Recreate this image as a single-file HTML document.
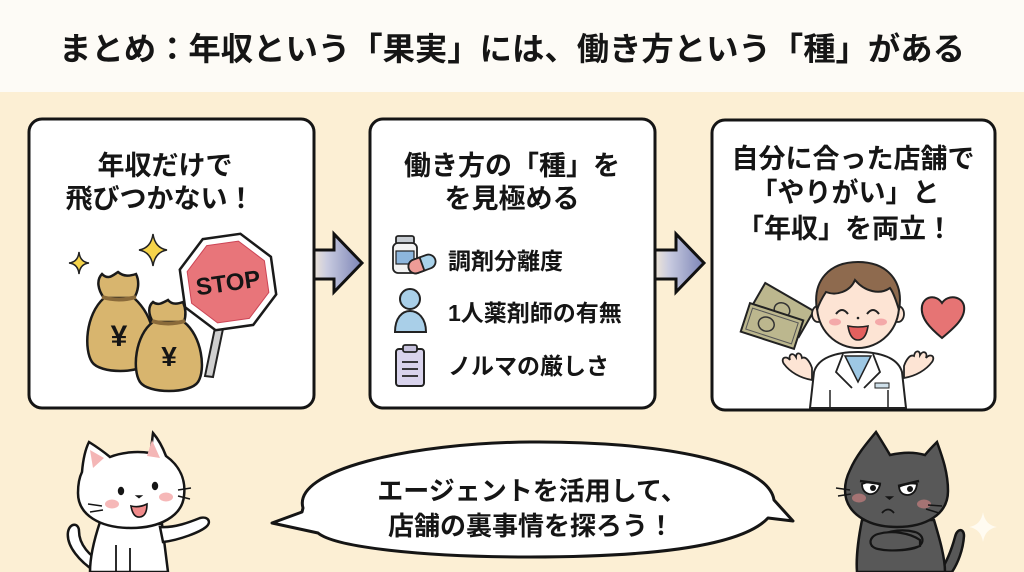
<!DOCTYPE html>
<html><head><meta charset="utf-8"><style>
html,body{margin:0;padding:0;width:1024px;height:572px;overflow:hidden;background:#fcefd4}
svg{display:block}
text{font-family:"Liberation Sans","Noto Sans CJK JP",sans-serif;font-weight:bold;fill:#151515}
</style></head><body>
<svg width="1024" height="572" viewBox="0 0 1024 572" xmlns="http://www.w3.org/2000/svg">
<defs>
<linearGradient id="ag" x1="0" x2="1" y1="0" y2="0">
<stop offset="0" stop-color="#fcefd4"/><stop offset="0.35" stop-color="#c9cbe0"/><stop offset="1" stop-color="#7b84b6"/>
</linearGradient>
</defs>
<rect x="0" y="0" width="1024" height="92" fill="#fdfbf6"/>
<rect x="0" y="92" width="1024" height="480" fill="#fcefd4"/>
<text x="512" y="60" font-size="32" text-anchor="middle" textLength="906" lengthAdjust="spacingAndGlyphs">まとめ：年収という「果実」には、働き方という「種」がある</text>

<!-- arrows -->
<path d="M308,250 L334,250 L334,234 L362,263 L334,292 L334,279 L308,279 Z" fill="url(#ag)" stroke="#111" stroke-width="3" stroke-linejoin="miter"/>
<path d="M650,250 L676,250 L676,234 L704,263 L676,292 L676,279 L650,279 Z" fill="url(#ag)" stroke="#111" stroke-width="3"/>

<!-- boxes -->
<rect x="29" y="119" width="285" height="289" rx="13" fill="#fff" stroke="#151515" stroke-width="3"/>
<rect x="370" y="119" width="285" height="289" rx="13" fill="#fff" stroke="#151515" stroke-width="3"/>
<rect x="712" y="120" width="283" height="290" rx="13" fill="#fff" stroke="#151515" stroke-width="3"/>

<!-- box1 text -->
<text x="165" y="175" font-size="27" text-anchor="middle">年収だけで</text>
<text x="160" y="208" font-size="27" text-anchor="middle">飛びつかない！</text>

<!-- sparkles -->
<path d="M153,234 Q155,248 167,250 Q155,252 153,266 Q151,252 139,250 Q151,248 153,234 Z" fill="#f6d44a" stroke="#222" stroke-width="1.5"/>
<path d="M79,252 Q80,262 89,263 Q80,264 79,274 Q78,264 69,263 Q78,262 79,252 Z" fill="#f6d44a" stroke="#222" stroke-width="1.5"/>

<!-- bag 1 -->
<path d="M104,298 C85,315 84,350 92,362 C100,374 140,374 150,362 C158,350 156,318 134,298 Z" fill="#d8b56e" stroke="#1a1a1a" stroke-width="2.5"/>
<path d="M104,298 C98,290 96,280 102,274 C108,280 112,276 118,272 C124,277 130,276 136,274 C140,282 138,292 134,298 Z" fill="#d8b56e" stroke="#1a1a1a" stroke-width="2.5"/>
<path d="M102,297 Q119,302 136,297" fill="none" stroke="#8a6a3a" stroke-width="4"/>
<text x="119" y="346" font-size="30" text-anchor="middle">¥</text>
<!-- bag 2 -->
<path d="M153,322 C135,335 132,370 140,382 C148,394 190,394 198,382 C206,370 202,336 184,322 Z" fill="#d8b56e" stroke="#1a1a1a" stroke-width="2.5"/>
<path d="M153,322 C148,314 148,306 153,302 C158,306 162,303 168,300 C172,305 178,304 183,302 C186,309 186,316 184,322 Z" fill="#d8b56e" stroke="#1a1a1a" stroke-width="2.5"/>
<path d="M152,321 Q168,326 185,321" fill="none" stroke="#8a6a3a" stroke-width="4"/>
<text x="169" y="366" font-size="28" text-anchor="middle">¥</text>

<!-- stop sign -->
<path d="M216,323 L224,324 L213,377 L205,376 Z" fill="#cfcfcf" stroke="#222" stroke-width="2"/>
<g transform="translate(228,282) rotate(-8)">
<polygon points="-19,-46 19,-46 46,-19 46,19 19,46 -19,46 -46,19 -46,-19" fill="#fff" stroke="#1a1a1a" stroke-width="2.5"/>
<polygon points="-16,-39 16,-39 39,-16 39,16 16,39 -16,39 -39,16 -39,-16" fill="#e8757a" stroke="#c45"/>
<text x="0" y="9" font-size="24" text-anchor="middle" fill="#1a1a1a" style="font-family:'Liberation Sans',sans-serif">STOP</text>
</g>

<!-- box2 text -->
<text x="512" y="175" font-size="27" text-anchor="middle">働き方の「種」を</text>
<text x="512" y="208" font-size="27" text-anchor="middle">を見極める</text>
<text x="448" y="269" font-size="23">調剤分離度</text>
<text x="448" y="321" font-size="23">1人薬剤師の有無</text>
<text x="448" y="374" font-size="23">ノルマの厳しさ</text>

<!-- bottle & pill -->
<rect x="396" y="236" width="18" height="8" rx="2" fill="#c8cdd3" stroke="#222" stroke-width="1.8"/>
<rect x="393" y="243" width="24" height="30" rx="5" fill="#f3f3f3" stroke="#222" stroke-width="1.8"/>
<rect x="396" y="251" width="18" height="13" fill="#8db6dd" stroke="#222" stroke-width="1.2"/>
<g transform="translate(422,264) rotate(-20)">
<rect x="-14" y="-7" width="28" height="14" rx="7" fill="#a9d2ea" stroke="#222" stroke-width="1.8"/>
<path d="M0,-7 L-7,-7 A7,7 0 0 0 -7,7 L0,7 Z" fill="#ee9c97" stroke="#222" stroke-width="1.8"/>
</g>
<!-- person -->
<circle cx="410" cy="299" r="10" fill="#a9cfe8" stroke="#222" stroke-width="2"/>
<path d="M395,332 C395,318 402,311 410,311 C418,311 426,318 426,332 Z" fill="#a9cfe8" stroke="#222" stroke-width="2"/>
<!-- clipboard -->
<rect x="396" y="349" width="28" height="37" rx="3" fill="#d8d3ec" stroke="#222" stroke-width="2"/>
<rect x="403" y="345" width="14" height="7" rx="2" fill="#c6c1dc" stroke="#222" stroke-width="1.8"/>
<path d="M402,362 H418 M402,369 H418 M402,376 H418" stroke="#222" stroke-width="1.8"/>

<!-- box3 text -->
<text x="853" y="168" font-size="27" text-anchor="middle">自分に合った店舗で</text>
<text x="845" y="202" font-size="27" text-anchor="middle">「やりがい」と</text>
<text x="845" y="238" font-size="27" text-anchor="middle">「年収」を両立！</text>

<!-- money -->
<g transform="translate(782,310) rotate(30)">
<rect x="-28" y="-15" width="56" height="30" fill="#bcb78e" stroke="#222" stroke-width="2"/>
<ellipse cx="0" cy="0" rx="8" ry="7" fill="none" stroke="#333" stroke-width="1.5"/>
</g>
<g transform="translate(772,326) rotate(18)">
<rect x="-28" y="-15" width="56" height="30" fill="#bcb78e" stroke="#222" stroke-width="2"/>
<rect x="-24" y="-11" width="48" height="22" fill="none" stroke="#555" stroke-width="1"/>
<ellipse cx="-6" cy="0" rx="8" ry="7" fill="none" stroke="#333" stroke-width="1.5"/>
</g>
<!-- heart -->
<path d="M942,338 C930,328 920,318 922,306 C924,296 936,294 942,303 C948,294 962,296 964,306 C966,318 954,328 942,338 Z" fill="#e67474" stroke="#222" stroke-width="2"/>

<!-- pharmacist -->
<path d="M810,408 L814,372 C818,358 835,352 858,352 C881,352 898,358 902,372 L906,408 Z" fill="#fff" stroke="#222" stroke-width="2"/>
<path d="M845,356 L858,382 L871,356 Z" fill="#9ec8e4" stroke="#222" stroke-width="1.5"/>
<path d="M843,354 L836,372 L852,388 M873,354 L880,372 L864,388" fill="none" stroke="#222" stroke-width="1.8"/>
<path d="M830,390 V408 M888,390 V408" stroke="#222" stroke-width="1.5"/>
<rect x="875" y="383" width="14" height="5" fill="#cfe0ea" stroke="#222" stroke-width="1"/>
<path d="M812,380 C800,378 790,372 784,364 C780,358 786,355 790,360 C788,354 793,352 796,357 C796,352 801,352 802,358 C806,356 810,362 812,368 Z" fill="#fde4d4" stroke="#222" stroke-width="1.8"/>
<path d="M904,378 C916,376 926,370 932,362 C936,356 930,353 926,358 C928,352 923,350 920,355 C920,350 915,350 914,356 C910,354 906,360 904,366 Z" fill="#fde4d4" stroke="#222" stroke-width="1.8"/>
<ellipse cx="818" cy="314" rx="6" ry="8" fill="#fde4d4" stroke="#222" stroke-width="1.8"/>
<ellipse cx="898" cy="314" rx="6" ry="8" fill="#fde4d4" stroke="#222" stroke-width="1.8"/>
<ellipse cx="858" cy="306" rx="41" ry="42" fill="#fde4d4" stroke="#222" stroke-width="2"/>
<path d="M817,310 C812,280 830,262 858,262 C888,262 904,282 899,310 C896,300 893,292 890,288 C880,295 865,292 855,280 C850,292 836,296 826,292 C822,298 819,304 817,310 Z" fill="#8e6a4e" stroke="#222" stroke-width="2"/>
<path d="M836,314 Q842,306 848,314 M867,314 Q873,306 879,314" fill="none" stroke="#222" stroke-width="2"/>
<ellipse cx="835" cy="322" rx="6" ry="3.5" fill="#f4a9a9"/>
<ellipse cx="881" cy="322" rx="6" ry="3.5" fill="#f4a9a9"/>
<circle cx="858" cy="318" r="1.3" fill="#222"/>
<path d="M848,326 Q858,328 868,326 Q866,340 858,340 Q850,340 848,326 Z" fill="#e4605e" stroke="#222" stroke-width="1.6"/>

<!-- speech bubble -->
<path d="M303,508 C292,470 410,443 530,442 C660,441 768,462 774,500 L793,521 L768,518 C740,548 640,557 530,557 C420,557 335,547 318,533 L272,523 L302,512 Z" fill="#fff" stroke="#151515" stroke-width="3" stroke-linejoin="round"/>
<text x="532" y="500" font-size="26" text-anchor="middle">エージェントを活用して、</text>
<text x="531" y="535" font-size="26" text-anchor="middle">店舗の裏事情を探ろう！</text>

<!-- white cat -->
<path d="M96,572 C80,562 66,546 68,532 C70,522 79,523 79,531 C79,545 90,556 102,563" fill="#fff" stroke="#151515" stroke-width="2.5"/>
<path d="M100,522 C94,540 90,558 90,572 L168,572 C166,556 164,540 162,524 Z" fill="#fff" stroke="#151515" stroke-width="2.5"/>
<path d="M116,545 V572 M130,548 V572" stroke="#151515" stroke-width="1.8"/>
<path d="M160,527 C175,528 190,522 200,518 C208,516 212,522 206,527 C200,532 180,540 163,542 Z" fill="#fff" stroke="#151515" stroke-width="2.5"/>
<path d="M82,472 C83,460 85,450 89,442 C97,447 104,452 110,457 C122,452 138,451 150,453 C152,446 152,440 153,433 C159,440 163,448 166,456 C180,466 186,480 184,496 C182,516 160,528 131,528 C100,528 78,515 78,493 C78,484 79,478 82,472 Z" fill="#fff" stroke="#151515" stroke-width="2.5"/>
<path d="M90,450 L93,468 L104,458 Z" fill="#f4b6b6"/>
<path d="M152,440 L147,456 L160,458 Z" fill="#f4b6b6"/>
<ellipse cx="121" cy="491" rx="3.2" ry="4.2" fill="#151515"/>
<ellipse cx="155" cy="486" rx="3.2" ry="4.2" fill="#151515"/>
<ellipse cx="112" cy="504" rx="7" ry="4.5" fill="#f6b8b8"/>
<ellipse cx="166" cy="497" rx="7" ry="4.5" fill="#f6b8b8"/>
<path d="M137,496 l2,1.5 l2,-1.5 Z" fill="#151515" stroke="#151515" stroke-width="1.5"/>
<path d="M131,506 Q139,508 147,504 Q147,516 140,517 Q133,518 131,506 Z" fill="#f08a8a" stroke="#151515" stroke-width="1.6"/>
<path d="M88,504 L102,506 M90,512 L103,510 M178,490 L191,488 M178,496 L190,499" stroke="#151515" stroke-width="1.5"/>

<!-- black cat -->
<path d="M940,572 C948,560 952,548 955,537 C957,528 964,528 964,536 C963,550 958,563 952,572 Z" fill="#585858" stroke="#151515" stroke-width="2.5"/>
<path d="M862,520 C858,540 856,560 857,572 L945,572 C945,558 940,540 934,520 Z" fill="#585858" stroke="#151515" stroke-width="2.5"/>
<path d="M850,470 C856,456 866,444 876,432 C881,440 886,448 890,455 C903,452 915,452 925,455 C929,450 933,446 937,442 C942,456 948,472 948,491 C948,515 925,527 897,527 C866,527 845,512 845,490 C845,482 847,476 850,470 Z" fill="#585858" stroke="#151515" stroke-width="2.5"/>
<path d="M872,540 C882,532 900,528 915,532 C925,535 925,545 915,548 C900,552 885,550 872,546 Z" fill="#585858" stroke="#151515" stroke-width="2.2"/>
<path d="M920,540 C910,533 892,530 878,534 C868,537 868,547 878,549 C892,552 908,550 920,546 Z" fill="#585858" stroke="#151515" stroke-width="2.2"/>
<path d="M862,484 Q871,480 880,485 Q877,495 869,494 Q862,492 862,484 Z" fill="#fff" stroke="#151515" stroke-width="1.8"/>
<path d="M899,487 Q908,482 917,484 Q916,494 908,495 Q900,495 899,487 Z" fill="#fff" stroke="#151515" stroke-width="1.8"/>
<circle cx="873" cy="488" r="3" fill="#151515"/>
<circle cx="910" cy="489" r="3" fill="#151515"/>
<path d="M860,481 L881,484 M898,486 L919,481" stroke="#151515" stroke-width="2.5"/>
<ellipse cx="859" cy="498" rx="7" ry="4.5" fill="#b97b7b" opacity="0.8"/>
<ellipse cx="924" cy="504" rx="7" ry="4.5" fill="#b97b7b" opacity="0.8"/>
<path d="M887,497 l2.5,2 l2.5,-2 Z" fill="#151515" stroke="#151515" stroke-width="1.5"/>
<path d="M882,513 Q888,506 894,513" fill="none" stroke="#151515" stroke-width="1.8"/>
<path d="M836,488 L850,490 M838,496 L851,494 M928,505 L942,506 M926,509 L939,513" stroke="#151515" stroke-width="1.5"/>

<!-- faint sparkle -->
<path d="M983,512 Q985,525 997,527 Q985,529 983,542 Q981,529 969,527 Q981,525 983,512 Z" fill="#fffdf6" opacity="0.85"/>
</svg>
</body></html>
